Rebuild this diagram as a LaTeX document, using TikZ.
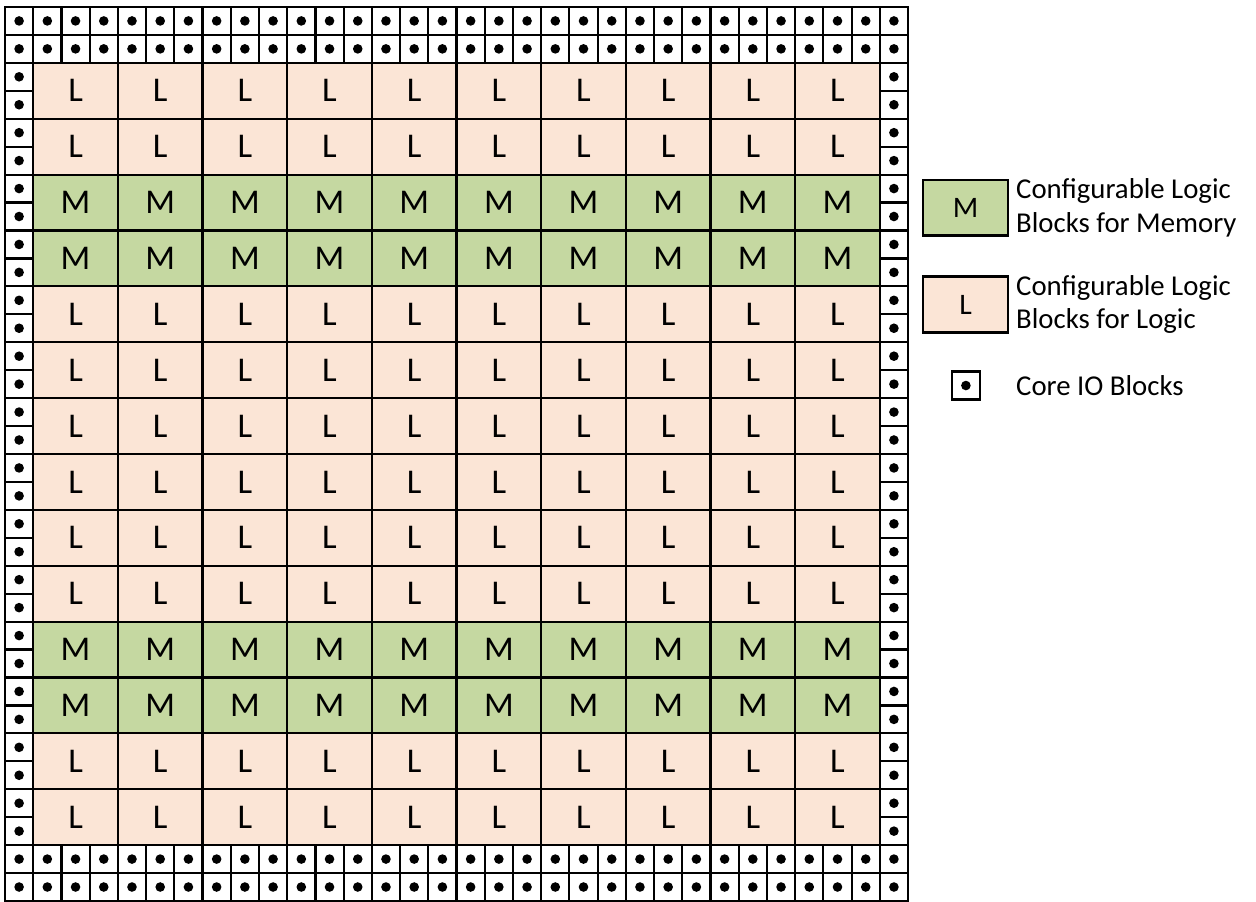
\documentclass[tikz,border=0pt]{standalone}
\usepackage{fontspec}
\setmainfont{Carlito}
\usepackage{xcolor}
\usetikzlibrary{positioning}

\definecolor{memgreen}{RGB}{197,216,161}
\definecolor{logicpeach}{RGB}{251,229,214}

\tikzset{
  iocell/.style={draw, line width=1.1pt, inner sep=0pt, minimum width=0.5cm, minimum height=0.495cm,
    path picture={\fill (path picture bounding box.center) circle[radius=0.085cm];}},
  blockcell/.style={draw, line width=1.1pt, inner sep=0pt, minimum width=1.5cm, minimum height=0.99cm, font=\fontsize{17.5}{19}\selectfont},
  memcell/.style={blockcell, fill=memgreen},
  logiccell/.style={blockcell, fill=logicpeach},
  keytext/.style={align=left, font=\fontsize{14.5}{17}\selectfont, inner sep=2pt},
}

\begin{document}
\begin{tikzpicture}[x=0.5cm, y=0.495cm]
    \useasboundingbox (-0.177,-0.03) rectangle (44.33,32.25);

    \foreach \i in {0,...,31} {
      \foreach \j in {0,1,30,31}
        \node[iocell] (io-\i-\j) at (\i+0.5,\j+0.5) {};
    }
    \foreach \j in {2,...,29} {
      \node[iocell] (io-0-\j) at (0.5,\j+0.5) {};
      \node[iocell] (io-31-\j) at (31.5,\j+0.5) {};
    }

    \foreach \r in {0,1,4,5,6,7,8,9,12,13} {
      \foreach \c in {0,...,9}
        \node[logiccell] (clb-\c-\r) at (2.5+3*\c,3+2*\r) {L};
    }
    \foreach \r in {2,3,10,11} {
      \foreach \c in {0,...,9}
        \node[memcell] (clb-\c-\r) at (2.5+3*\c,3+2*\r) {M};
    }

    \node[memcell, font=\fontsize{15}{17}\selectfont] (key-m) at (34.04,24.82) {M};
    \node[logiccell, font=\fontsize{15}{17}\selectfont] (key-l) at (34.04,21.35) {L};
    \node[iocell] (key-io) at (34.05,18.45) {};

    \node[keytext, right=0.05cm of key-m] (key-m-text) {Configurable Logic\\Blocks for Memory};
    \node[keytext, right=0.05cm of key-l] (key-l-text) {Configurable Logic\\Blocks for Logic};
    \node[keytext, anchor=west] (key-io-text) at (key-l-text.west |- key-io) {Core IO Blocks};
\end{tikzpicture}
\end{document}
